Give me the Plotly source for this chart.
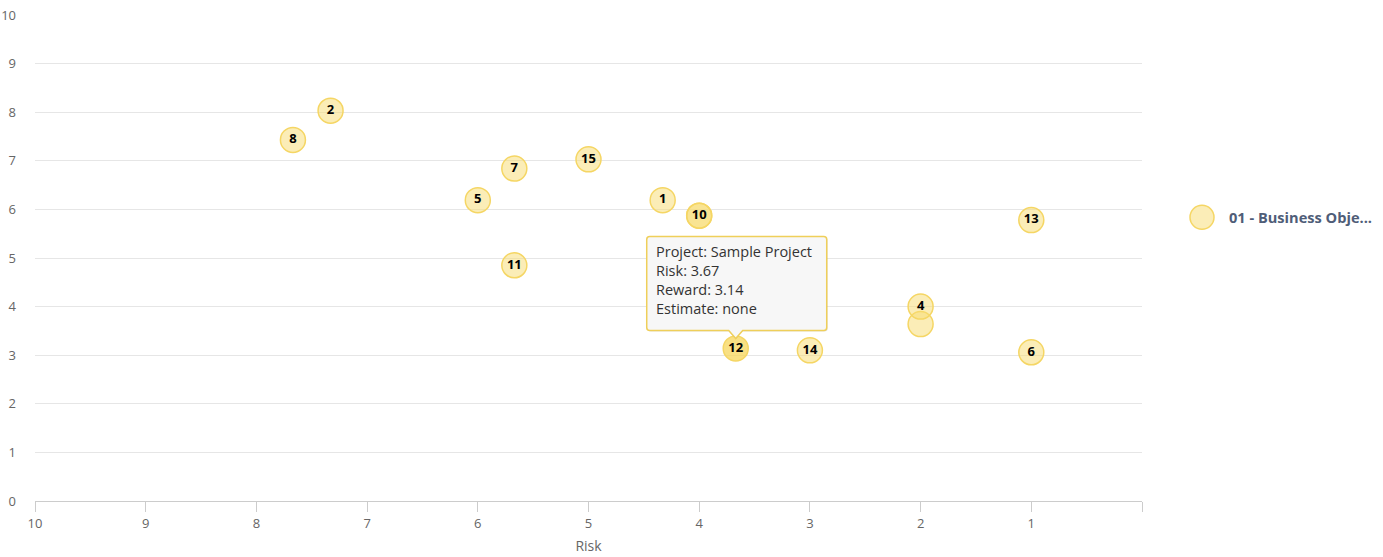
import plotly.graph_objects as go

# Project portfolio: risk vs reward per project
project_ids = ["1", "2", "3", "4", "5", "6", "7", "8", "9", "10", "11", "12", "13", "14", "15"]
project_names = [
    "Project 1", "Project 2", "Project 3", "Project 4", "Project 5",
    "Project 6", "Project 7", "Project 8", "Project 9", "Project 10",
    "Project 11", "Sample Project", "Project 13", "Project 14", "Project 15",
]
risk = [4.33, 7.33, 2.0, 2.0, 6.0, 1.0, 5.67, 7.67, 4.0, 4.0, 5.67, 3.67, 1.0, 3.0, 5.0]
reward = [6.19, 8.03, 3.64, 4.0, 6.19, 3.06, 6.84, 7.43, 5.87, 5.87, 4.85, 3.14, 5.78, 3.1, 7.03]
estimate = ["none"] * 15
# labels hidden where they would collide with a neighbouring label
hidden_labels = {"3", "9"}
series_name = "01 - Business Obje..."

x_ticks = [10, 9, 8, 7, 6, 5, 4, 3, 2, 1, 0]
x_tick_text = ["10", "9", "8", "7", "6", "5", "4", "3", "2", "1", ""]
y_ticks = [0, 1, 2, 3, 4, 5, 6, 7, 8, 9, 10]

focus = "12"  # project shown in the callout

FILL = "rgba(247,220,111,0.5)"
FILL_HOVER = "rgba(247,214,90,0.75)"
EDGE = "rgb(245,214,100)"
FONT = "Open Sans"

labels = ["" if p in hidden_labels else p for p in project_ids]
fills = [FILL_HOVER if p == focus else FILL for p in project_ids]

fig = go.Figure()
fig.add_trace(go.Scatter(
    x=risk, y=reward, mode="markers+text", name=series_name,
    text=labels, textposition="middle center",
    textfont=dict(family=FONT, size=13, color="#000000", weight="bold"),
    marker=dict(size=25, color=fills, line=dict(color=EDGE, width=1.5)),
    customdata=list(zip(project_names, estimate)),
    hovertemplate="Project: %{customdata[0]}<br>Risk: %{x}<br>Reward: %{y}<br>Estimate: %{customdata[1]}<extra></extra>",
    showlegend=False,
))

# legend entry drawn as circle + label so the swatch matches the bubble size
fig.add_shape(type="circle", xref="paper", yref="paper",
              xsizemode="pixel", ysizemode="pixel",
              xanchor=1.0, yanchor=0.584,
              x0=48, x1=72, y0=-12, y1=12,
              fillcolor=FILL, line=dict(color=EDGE, width=1.5))
fig.add_annotation(xref="paper", yref="paper", x=1.0, y=0.584, xshift=85,
                   xanchor="left", yanchor="middle", showarrow=False,
                   text="<b>" + series_name + "</b>",
                   font=dict(family=FONT, size=14.6, color="#4F5D78"))

# callout for the focused project
i = project_ids.index(focus)
px, py = risk[i], reward[i]
box = ("M -86,18 L -7,18 L 0,10 L 7,18 L 88,18 Q 91,18 91,21 L 91,109 "
       "Q 91,112 88,112 L -86,112 Q -89,112 -89,109 L -89,21 Q -89,18 -86,18 Z")
shadow = ("M -85,17 L -7,17 L 0,9 L 7,17 L 89,17 Q 92,17 92,20 L 92,108 "
          "Q 92,111 89,111 L -85,111 Q -88,111 -88,108 L -88,20 Q -88,17 -85,17 Z")
fig.add_shape(type="path", xref="x", yref="y", xsizemode="pixel", ysizemode="pixel",
              xanchor=px, yanchor=py, path=shadow,
              fillcolor="rgba(0,0,0,0.10)", line=dict(width=0))
fig.add_shape(type="path", xref="x", yref="y", xsizemode="pixel", ysizemode="pixel",
              xanchor=px, yanchor=py, path=box,
              fillcolor="#F7F7F7", line=dict(color="#EFCF5A", width=1.5))
tip = (f"Project: {project_names[i]}<br>Risk: {risk[i]:.2f}<br>"
       f"Reward: {reward[i]:.2f}<br>Estimate: {estimate[i]}")
fig.add_annotation(x=px, y=py, xref="x", yref="y", xshift=-82, yshift=108,
                   xanchor="left", yanchor="top", align="left", showarrow=False,
                   text=tip, font=dict(family=FONT, size=14.5, color="#333333"))

fig.update_xaxes(
    range=[10, 0], tickvals=x_ticks, ticktext=x_tick_text,
    showgrid=False, zeroline=False, automargin=False,
    showline=True, linecolor="#CCCCCC", linewidth=1,
    ticks="outside", ticklen=10, tickcolor="#CCCCCC", tickwidth=1,
    tickfont=dict(family=FONT, size=13, color="#666666"),
    title=dict(text="Risk", font=dict(family=FONT, size=14, color="#666666"), standoff=10),
)
fig.update_yaxes(
    range=[0, 10], tickvals=y_ticks, automargin=False,
    showgrid=True, gridcolor="#E6E6E6", gridwidth=1,
    zeroline=False, showline=False, ticks="",
    ticklabelstandoff=18,
    tickfont=dict(family=FONT, size=13, color="#666666"),
)
fig.update_layout(
    width=1383, height=557,
    margin=dict(l=35, r=241, t=15, b=56, autoexpand=False),
    plot_bgcolor="#FFFFFF", paper_bgcolor="#FFFFFF",
    font=dict(family=FONT),
    hovermode="closest",
)

fig.write_html("out.html")
